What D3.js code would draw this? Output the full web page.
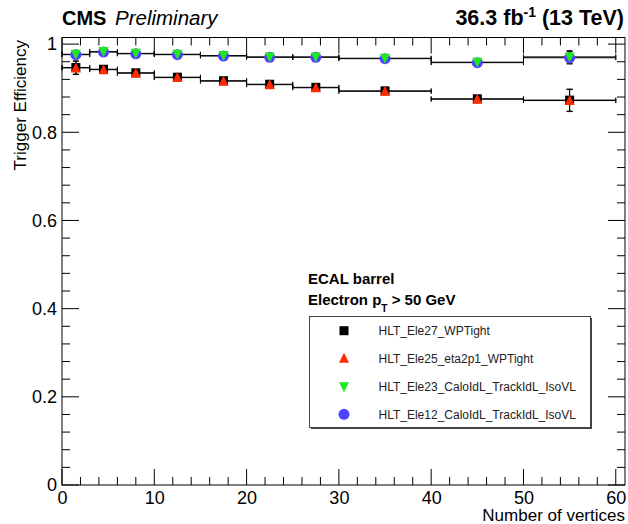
<!DOCTYPE html>
<html><head><meta charset="utf-8">
<script src="https://cdn.jsdelivr.net/npm/d3@7"></script>
<style>body{margin:0;background:#fff;} text{font-family:"Liberation Sans",Arial,Helvetica,sans-serif;}</style>
</head><body>
<svg id="c" width="628" height="524"></svg>
<script>
const binEdges = [0,3,6,10,15,20,25,30,40,50,60];
const binCenters = [1.5,4.5,8,12.5,17.5,22.5,27.5,35,45,55];
const effEle27 = [0.947,0.943,0.935,0.925,0.917,0.909,0.902,0.894,0.876,0.873];
const errEle27 = [0.015,0.004,0.003,0.002,0.002,0.002,0.003,0.003,0.005,0.025];
const effEle25 = [0.946,0.942,0.934,0.924,0.916,0.908,0.901,0.893,0.875,0.872];
const errEle25 = [0.015,0.004,0.003,0.002,0.002,0.002,0.003,0.003,0.005,0.025];
const effEle23 = [0.977,0.983,0.979,0.977,0.974,0.971,0.971,0.968,0.959,0.971];
const errEle23 = [0.008,0.003,0.002,0.002,0.002,0.002,0.002,0.002,0.004,0.014];
const effEle12 = [0.976,0.982,0.978,0.976,0.973,0.970,0.970,0.967,0.958,0.969];
const errEle12 = [0.008,0.003,0.002,0.002,0.002,0.002,0.002,0.002,0.004,0.014];
const xMajorTicks = [0,10,20,30,40,50,60];
const yMajorTicks = [0,0.2,0.4,0.6,0.8,1];
const yTickLabels = ["0","0.2","0.4","0.6","0.8","1"];
const legendLabels = ["HLT_Ele27_WPTight","HLT_Ele25_eta2p1_WPTight","HLT_Ele23_CaloIdL_TrackIdL_IsoVL","HLT_Ele12_CaloIdL_TrackIdL_IsoVL"];

const svg = d3.select("#c");
const L=62, R=625, T=37.5, B=485;
const x = d3.scaleLinear().domain([0,61]).range([L,R]);
const y = d3.scaleLinear().domain([0,1.015]).range([B,T]);

// frame
svg.append("rect").attr("x",L).attr("y",T).attr("width",R-L).attr("height",B-T)
  .attr("fill","none").attr("stroke","#000").attr("stroke-width",1);

// ticks
const xMinor = d3.range(0,61,2);
const yMinor = d3.range(0,1.0001,0.04).map(v=>+v.toFixed(2));
const tg = svg.append("g").attr("stroke","#000").attr("stroke-width",1);
xMinor.forEach(v=>{
  const maj = v%10===0; const len = maj?16:8;
  tg.append("line").attr("x1",x(v)).attr("x2",x(v)).attr("y1",B).attr("y2",B-len);
  tg.append("line").attr("x1",x(v)).attr("x2",x(v)).attr("y1",T).attr("y2",T+len);
});
yMinor.forEach(v=>{
  const maj = Math.abs(v*5-Math.round(v*5))<1e-6; const len = maj?17:8;
  tg.append("line").attr("x1",L).attr("x2",L+len).attr("y1",y(v)).attr("y2",y(v));
  tg.append("line").attr("x1",R).attr("x2",R-len).attr("y1",y(v)).attr("y2",y(v));
});

// axes labels via d3 axis (ticks hidden)
const xAxis = d3.axisBottom(x).tickValues(xMajorTicks).tickSize(0).tickPadding(6);
const gx = svg.append("g").attr("transform",`translate(0,${B})`).call(xAxis);
gx.select(".domain").remove();
gx.selectAll("text").attr("font-size",18).attr("fill","#000").attr("font-family","Liberation Sans, Arial, sans-serif");
const yAxis = d3.axisLeft(y).tickValues(yMajorTicks).tickFormat((d,i)=>yTickLabels[i]).tickSize(0).tickPadding(5);
const gy = svg.append("g").attr("transform",`translate(${L},0)`).call(yAxis);
gy.select(".domain").remove();
gy.selectAll("text").attr("font-size",18).attr("fill","#000").attr("font-family","Liberation Sans, Arial, sans-serif");

// axis titles
svg.append("text").attr("x",R).attr("y",521).attr("text-anchor","end").attr("font-size",17).text("Number of vertices");
svg.append("text").attr("transform",`translate(26,40) rotate(-90)`).attr("text-anchor","end").attr("font-size",17).text("Trigger Efficiency");

// header
svg.append("text").attr("x",62).attr("y",25).attr("font-size",20).attr("font-weight","bold").text("CMS");
svg.append("text").attr("x",115).attr("y",25).attr("font-size",20.5).attr("font-style","italic").text("Preliminary");
const lumi = svg.append("text").attr("x",624).attr("y",25).attr("font-size",21.5).attr("font-weight","bold").attr("text-anchor","end");
lumi.append("tspan").text("36.3 fb");
lumi.append("tspan").attr("dy",-8).attr("font-size",14).text("-1");
lumi.append("tspan").attr("dy",8).text(" (13 TeV)");

// data
const series = [
  {v:effEle27, e:errEle27, shape:"square", color:"#000"},
  {v:effEle25, e:errEle25, shape:"up", color:"#ff2a00"},
  {v:effEle12, e:errEle12, shape:"circle", color:"#5040ff"},
  {v:effEle23, e:errEle23, shape:"down", color:"#1ee81e"},
];
function marker(g, shape, cx, cy, color){
  if(shape==="square") g.append("rect").attr("x",cx-4.5).attr("y",cy-4.5).attr("width",9).attr("height",9).attr("fill",color);
  else if(shape==="circle") g.append("circle").attr("cx",cx).attr("cy",cy).attr("r",5.5).attr("fill",color);
  else if(shape==="up") g.append("path").attr("d",`M${cx-5},${cy+4.5}L${cx+5},${cy+4.5}L${cx},${cy-5.5}Z`).attr("fill",color);
  else g.append("path").attr("d",`M${cx-5},${cy-4.5}L${cx+5},${cy-4.5}L${cx},${cy+5.5}Z`).attr("fill",color);
}
const eg = svg.append("g").attr("stroke","#000").attr("stroke-width",1);
series.forEach(s=>{
  s.v.forEach((v,i)=>{
    const yy = y(v), x0=x(binEdges[i]), x1=x(binEdges[i+1]);
    eg.append("line").attr("x1",x0).attr("x2",x1).attr("y1",yy).attr("y2",yy);
    eg.append("line").attr("x1",x0).attr("x2",x0).attr("y1",yy-2.5).attr("y2",yy+2.5);
    eg.append("line").attr("x1",x1).attr("x2",x1).attr("y1",yy-2.5).attr("y2",yy+2.5);
    const cx = x(binCenters[i]);
    const yt=y(v+s.e[i]), yb=y(v-s.e[i]);
    eg.append("line").attr("x1",cx).attr("x2",cx).attr("y1",yt).attr("y2",yb);
    if(s.e[i]>0.01){
      eg.append("line").attr("x1",cx-3).attr("x2",cx+3).attr("y1",yt).attr("y2",yt);
      eg.append("line").attr("x1",cx-3).attr("x2",cx+3).attr("y1",yb).attr("y2",yb);
    }
  });
});
const mg = svg.append("g");
series.forEach(s=>{
  s.v.forEach((v,i)=>marker(mg,s.shape,x(binCenters[i]),y(v),s.color));
});

// legend text
svg.append("text").attr("x",308).attr("y",284).attr("font-size",15).attr("font-weight","bold").text("ECAL barrel");
const t2 = svg.append("text").attr("x",308).attr("y",305).attr("font-size",15).attr("font-weight","bold");
t2.append("tspan").text("Electron p");
t2.append("tspan").attr("dy",7).attr("font-size",10).text("T");
t2.append("tspan").attr("dy",-7).text(" > 50 GeV");

// legend box
svg.append("rect").attr("x",311).attr("y",318).attr("width",281).attr("height",111).attr("fill","#444");
svg.append("rect").attr("x",309.5).attr("y",316.5).attr("width",281).attr("height",111).attr("fill","#fff").attr("stroke","#444").attr("stroke-width",1);
const legShapes = ["square","up","down","circle"];
const legColors = ["#000","#ff2a00","#1ee81e","#5040ff"];
const rowsY = [330.7,358.3,386.7,414.3];
legendLabels.forEach((lab,i)=>{
  marker(svg, legShapes[i], 344, rowsY[i], legColors[i]);
  svg.append("text").attr("x",378.5).attr("y",rowsY[i]+4.5).attr("font-size",12).attr("fill","#222").text(lab);
});
</script>
</body></html>
